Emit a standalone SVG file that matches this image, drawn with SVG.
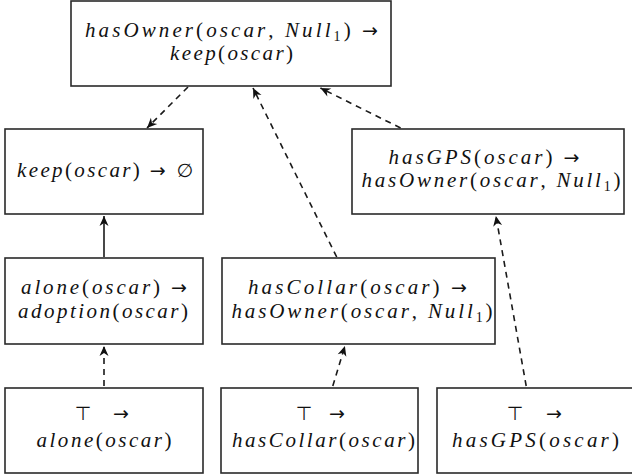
<svg xmlns="http://www.w3.org/2000/svg" width="632" height="474" viewBox="0 0 632 474">
<style>
.box { fill: #fff; stroke: #2a2a2a; stroke-width: 1.6; }
.t { font-family: "Liberation Serif", "DejaVu Serif", serif; font-size: 21px; font-style: italic; fill: #111; text-anchor: middle; }
.u { font-style: normal; }
.s { font-size: 14px; font-style: normal; }
.sym { font-family: "DejaVu Sans", sans-serif; font-style: normal; font-size: 19px; fill: #111; }
.top { font-family: "DejaVu Sans", sans-serif; font-style: normal; font-size: 19px; fill: #111; }
.c { fill: none; stroke: #1a1a1a; stroke-width: 1.6; }
.d { stroke-dasharray: 6 5; }
</style>
<defs>
<marker id="ah" markerUnits="userSpaceOnUse" markerWidth="12" markerHeight="10" refX="10" refY="4.5" orient="auto" overflow="visible">
<path d="M0,0 L10,4.5 L0,9 L3,4.5 z" fill="#111"/>
</marker>
</defs>
<rect width="632" height="474" fill="#fff"/>

<g id="connectors">
<line class="c d" x1="188" y1="87" x2="147" y2="128" marker-end="url(#ah)"/>
<line class="c d" x1="336.7" y1="257" x2="253" y2="88" marker-end="url(#ah)"/>
<line class="c d" x1="400.6" y1="128" x2="320.4" y2="88" marker-end="url(#ah)"/>
<line class="c" x1="104" y1="257" x2="104" y2="216" marker-end="url(#ah)"/>
<line class="c d" x1="104" y1="386" x2="104" y2="346" marker-end="url(#ah)"/>
<line class="c d" x1="332.8" y1="386" x2="344.9" y2="346" marker-end="url(#ah)"/>
<line class="c d" x1="526.2" y1="386" x2="495.9" y2="216" marker-end="url(#ah)"/>
</g>

<g id="n_top">
<rect class="box" x="71" y="1" width="320" height="85"/>
<text class="t" x="231.5" y="37" textLength="293" lengthAdjust="spacing">hasOwner<tspan class="u">(</tspan>oscar<tspan class="u">, </tspan>Null<tspan class="s" dy="4">1</tspan><tspan class="u" dy="-4">) </tspan><tspan class="sym">→</tspan></text>
<text class="t" x="231.5" y="60" textLength="123" lengthAdjust="spacing">keep<tspan class="u">(</tspan>oscar<tspan class="u">)</tspan></text>
</g>

<g id="n_keep">
<rect class="box" x="5" y="129" width="198" height="85"/>
<text class="t" x="105" y="177" textLength="176" lengthAdjust="spacing">keep<tspan class="u">(</tspan>oscar<tspan class="u">) </tspan><tspan class="sym">→ ∅</tspan></text>
</g>

<g id="n_gps">
<rect class="box" x="352" y="129" width="272" height="85"/>
<text class="t" x="484" y="164" textLength="191" lengthAdjust="spacing">hasGPS<tspan class="u">(</tspan>oscar<tspan class="u">) </tspan><tspan class="sym">→</tspan></text>
<text class="t" x="491" y="187" textLength="259" lengthAdjust="spacing">hasOwner<tspan class="u">(</tspan>oscar<tspan class="u">, </tspan>Null<tspan class="s" dy="4">1</tspan><tspan class="u" dy="-4">)</tspan></text>
</g>

<g id="n_alone">
<rect class="box" x="5" y="258" width="198" height="86"/>
<text class="t" x="104" y="294" textLength="166" lengthAdjust="spacing">alone<tspan class="u">(</tspan>oscar<tspan class="u">) </tspan><tspan class="sym">→</tspan></text>
<text class="t" x="103" y="318" textLength="170" lengthAdjust="spacing">adoption<tspan class="u">(</tspan>oscar<tspan class="u">)</tspan></text>
</g>

<g id="n_collar">
<rect class="box" x="222" y="258" width="273" height="86"/>
<text class="t" x="357.5" y="294" textLength="219" lengthAdjust="spacing">hasCollar<tspan class="u">(</tspan>oscar<tspan class="u">) </tspan><tspan class="sym">→</tspan></text>
<text class="t" x="362" y="318" textLength="261" lengthAdjust="spacing">hasOwner<tspan class="u">(</tspan>oscar<tspan class="u">, </tspan>Null<tspan class="s" dy="4">1</tspan><tspan class="u" dy="-4">)</tspan></text>
</g>

<g id="n_f_alone">
<rect class="box" x="5" y="388" width="198" height="85"/>
<text class="t"><tspan class="top" x="83" y="420">⊤</tspan><tspan class="sym" x="121" y="420">→</tspan></text>
<text class="t" x="104" y="447" textLength="135" lengthAdjust="spacing">alone<tspan class="u">(</tspan>oscar<tspan class="u">)</tspan></text>
</g>

<g id="n_f_collar">
<rect class="box" x="221" y="388" width="197" height="85"/>
<text class="t"><tspan class="top" x="304" y="420">⊤</tspan><tspan class="sym" x="337" y="420">→</tspan></text>
<text class="t" x="323.5" y="447" textLength="183" lengthAdjust="spacing">hasCollar<tspan class="u">(</tspan>oscar<tspan class="u">)</tspan></text>
</g>

<g id="n_f_gps">
<rect class="box" x="437" y="388" width="197" height="85"/>
<text class="t"><tspan class="top" x="515" y="420">⊤</tspan><tspan class="sym" x="554" y="420">→</tspan></text>
<text class="t" x="535.5" y="447" textLength="167" lengthAdjust="spacing">hasGPS<tspan class="u">(</tspan>oscar<tspan class="u">)</tspan></text>
</g>
</svg>
